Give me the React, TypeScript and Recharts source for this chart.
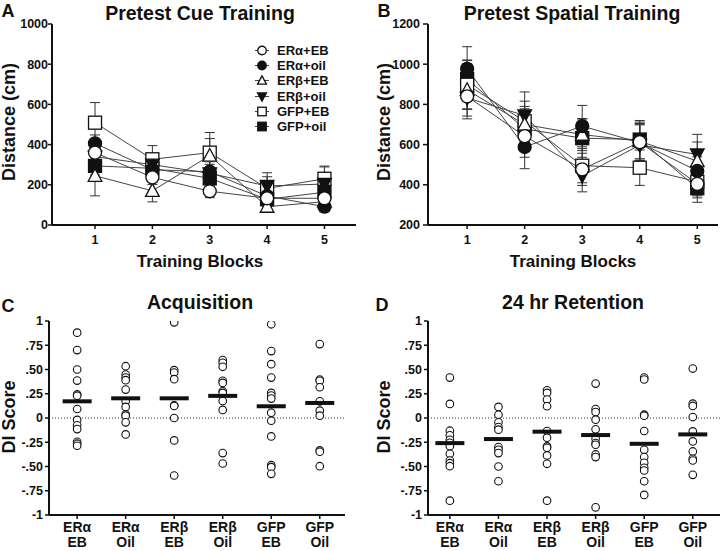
import React from "react";
import {
  LineChart,
  Line,
  ScatterChart,
  Scatter,
  XAxis,
  YAxis,
  ErrorBar,
  ReferenceLine,
  Legend,
} from "recharts";

const FONT = '"Liberation Sans", Arial, Helvetica, sans-serif';
const INK = "#111";

// ---- Panels A / B: training blocks ----
const blocks = [1, 2, 3, 4, 5];
const seriesKeys = ["eraEB", "eraOil", "erbEB", "erbOil", "gfpEB", "gfpOil"];
const seriesNames = ["ERα+EB", "ERα+oil", "ERβ+EB", "ERβ+oil", "GFP+EB", "GFP+oil"];
const seriesShapes = ["circle", "circle", "up", "down", "square", "square"];
const seriesFilled = [false, true, false, true, false, true];

// Pretest cue training, mean distance (cm)
const cueMeans = [
  [360, 237, 168, 133, 133],
  [406, 275, 265, 144, 91],
  [245, 170, 345, 91, 116],
  [340, 300, 257, 194, 204],
  [509, 327, 360, 182, 230],
  [294, 282, 232, 128, 163],
];
const cueSem = [
  [45, 35, 32, 30, 30],
  [42, 45, 50, 35, 25],
  [100, 55, 85, 20, 25],
  [50, 45, 45, 66, 85],
  [100, 68, 100, 58, 63],
  [45, 40, 40, 35, 40],
];

// Pretest spatial training, mean distance (cm)
const spatialMeans = [
  [840, 642, 477, 612, 405],
  [977, 588, 692, 610, 469],
  [872, 700, 650, 617, 518],
  [832, 745, 445, 598, 551],
  [898, 716, 495, 485, 415],
  [926, 678, 632, 625, 383],
];
const spatialSem = [
  [112, 105, 80, 90, 60],
  [110, 108, 103, 95, 70],
  [130, 90, 80, 95, 95],
  [57, 117, 80, 100, 100],
  [120, 100, 85, 88, 80],
  [95, 100, 95, 95, 70],
];

// ---- Panels C / D: DI scores per group ----
const groupLabels = [
  ["ERα", "EB"],
  ["ERα", "Oil"],
  ["ERβ", "EB"],
  ["ERβ", "Oil"],
  ["GFP", "EB"],
  ["GFP", "Oil"],
];
const diTicks = [-1, -0.75, -0.5, -0.25, 0, 0.25, 0.5, 0.75, 1];
const diTickLabels = ["-1", "-.75", "-.50", "-.25", "0", ".25", ".50", ".75", "1"];

const acquisition = [
  [0.88, 0.7, 0.5, 0.386, 0.245, 0.23, 0.093, -0.02, -0.076, -0.114, -0.245, -0.265, -0.286],
  [0.534, 0.448, 0.417, 0.39, 0.293, 0.172, 0.114, 0.038, 0.024, -0.045, -0.169],
  [0.986, 0.493, 0.469, 0.4, 0.131, 0.124, 0, -0.231, -0.593],
  [0.597, 0.569, 0.528, 0.383, 0.362, 0.276, 0.259, 0.176, 0.083, -0.362, -0.469],
  [0.966, 0.69, 0.555, 0.417, 0.259, 0.231, 0.2, 0.055, -0.028, -0.19, -0.486, -0.507, -0.576],
  [0.762, 0.397, 0.383, 0.317, 0.172, 0.076, 0.024, -0.334, -0.348, -0.497],
];
const acquisitionMeans = [0.172, 0.203, 0.203, 0.228, 0.121, 0.155];

const retention = [
  [0.417, 0.145, -0.131, -0.179, -0.224, -0.255, -0.29, -0.369, -0.438, -0.466, -0.497, -0.852],
  [0.114, 0.034, -0.045, -0.093, -0.12, -0.3, -0.328, -0.362, -0.5, -0.652],
  [0.286, 0.259, 0.19, 0.121, -0.134, -0.203, -0.293, -0.307, -0.386, -0.472, -0.852],
  [0.355, 0.093, 0.062, -0.017, -0.117, -0.214, -0.259, -0.276, -0.376, -0.403, -0.921],
  [0.417, 0.397, 0.034, 0.024, -0.134, -0.328, -0.403, -0.462, -0.514, -0.541, -0.652, -0.793],
  [0.51, 0.148, 0.124, 0.01, -0.138, -0.241, -0.345, -0.421, -0.438, -0.586],
];
const retentionMeans = [-0.259, -0.217, -0.141, -0.176, -0.266, -0.169];

function buildRows(means: number[][], sems: number[][]) {
  return blocks.map((b, i) => {
    const row: any = { block: b };
    seriesKeys.forEach((k, s) => {
      row[k] = means[s][i];
      row[k + "Err"] = sems[s][i];
    });
    return row;
  });
}

function buildPoints(groups: number[][]) {
  const pts: { x: number; y: number }[] = [];
  groups.forEach((vals, g) => vals.forEach((v) => pts.push({ x: g, y: v })));
  return pts;
}

function Marker({ cx, cy, shape, filled, size }: any) {
  const fill = filled ? INK : "#fff";
  const h = size / 2;
  const sw = 1.3;
  if (shape === "circle") return <circle cx={cx} cy={cy} r={h} fill={fill} stroke={INK} strokeWidth={sw} />;
  if (shape === "square")
    return <rect x={cx - h} y={cy - h} width={size} height={size} fill={fill} stroke={INK} strokeWidth={sw} />;
  if (shape === "up")
    return (
      <polygon
        points={`${cx},${cy - h * 1.1} ${cx - h * 1.05},${cy + h * 0.85} ${cx + h * 1.05},${cy + h * 0.85}`}
        fill={fill}
        stroke={INK}
        strokeWidth={sw}
      />
    );
  return (
    <polygon
      points={`${cx},${cy + h * 1.1} ${cx - h * 1.05},${cy - h * 0.85} ${cx + h * 1.05},${cy - h * 0.85}`}
      fill={fill}
      stroke={INK}
      strokeWidth={sw}
    />
  );
}

function SeriesLegend() {
  return (
    <div style={{ fontFamily: FONT, fontWeight: 700, fontSize: 13, color: INK }}>
      {seriesNames.map((n, i) => (
        <div key={n} style={{ display: "flex", alignItems: "center", height: 15.2 }}>
          <svg width={22} height={15} style={{ display: "block" }}>
            <line x1={3} x2={17} y1={7.5} y2={7.5} stroke="#444" strokeWidth={1} />
            <Marker cx={10} cy={7.5} shape={seriesShapes[i]} filled={seriesFilled[i]} size={8.5} />
          </svg>
          <span style={{ marginLeft: 3, lineHeight: "15px" }}>{n}</span>
        </div>
      ))}
    </div>
  );
}

const tickStyle = { fill: INK, fontSize: 12.5, fontWeight: 700, fontFamily: FONT };
const axisLine = { stroke: INK, strokeWidth: 2 };
const tickLine = { stroke: INK, strokeWidth: 1.5 };

function TrainingChart({ rows, yDomain, yTicks, xDomain, yWidth, right, ySize, yMargin, legend }: any) {
  const order = [5, 4, 3, 2, 1, 0];
  return (
    <LineChart width={360} height={280} data={rows} margin={{ top: 24, right, left: 0, bottom: 0 }}>
      <XAxis
        type="number"
        dataKey="block"
        domain={xDomain}
        ticks={blocks}
        allowDataOverflow
        height={55}
        axisLine={axisLine}
        tickLine={tickLine}
        tickSize={4}
        tickMargin={6}
        tick={tickStyle}
      />
      <YAxis
        type="number"
        domain={yDomain}
        ticks={yTicks}
        allowDataOverflow
        width={yWidth}
        axisLine={axisLine}
        tickLine={tickLine}
        tickSize={ySize}
        tickMargin={yMargin}
        tick={tickStyle}
        interval={0}
      />
      {legend && (
        <Legend
          layout="vertical"
          align="center"
          verticalAlign="middle"
          wrapperStyle={{ left: 252, top: 43, width: 110, height: 95 }}
          content={() => <SeriesLegend />}
        />
      )}
      {order.map((s) => (
        <Line
          key={seriesKeys[s]}
          dataKey={seriesKeys[s]}
          name={seriesNames[s]}
          stroke="#444"
          strokeWidth={1}
          isAnimationActive={false}
          activeDot={false}
          dot={(p: any) => (
            <Marker
              key={`${seriesKeys[s]}-${p.index}`}
              cx={p.cx}
              cy={p.cy}
              shape={seriesShapes[s]}
              filled={seriesFilled[s]}
              size={13}
            />
          )}
        >
          <ErrorBar dataKey={seriesKeys[s] + "Err"} width={5} stroke="#333" strokeWidth={1} direction="y" />
        </Line>
      ))}
    </LineChart>
  );
}

function GroupTick({ x, y, payload }: any) {
  const lab = groupLabels[payload.value];
  if (!lab) return null;
  return (
    <text x={x} y={y} textAnchor="middle" fill={INK} fontSize={14} fontWeight={700} fontFamily={FONT}>
      <tspan x={x} dy={11}>{lab[0]}</tspan>
      <tspan x={x} dy={15}>{lab[1]}</tspan>
    </text>
  );
}

function DiChart({ points, means, xDomain, yWidth, right }: any) {
  const meanPts = means.map((m: number, g: number) => ({ x: g, y: m }));
  return (
    <ScatterChart width={360} height={271} margin={{ top: 41, right, left: 0, bottom: 0 }}>
      <XAxis
        type="number"
        dataKey="x"
        domain={xDomain}
        ticks={[0, 1, 2, 3, 4, 5]}
        allowDataOverflow
        height={36}
        axisLine={axisLine}
        tickLine={tickLine}
        tickSize={4}
        tickMargin={2}
        tick={<GroupTick />}
        interval={0}
      />
      <YAxis
        type="number"
        dataKey="y"
        domain={[-1, 1]}
        ticks={diTicks}
        allowDataOverflow
        width={yWidth}
        axisLine={axisLine}
        tickLine={tickLine}
        tickSize={4}
        tickMargin={2}
        tick={tickStyle}
        interval={0}
        tickFormatter={(v: number) => diTickLabels[diTicks.indexOf(v)] ?? String(v)}
      />
      <ReferenceLine y={0} stroke="#333" strokeWidth={1} strokeDasharray="1 2" />
      <Scatter
        data={points}
        isAnimationActive={false}
        shape={(p: any) => <circle cx={p.cx} cy={p.cy} r={3.8} fill="#fff" stroke={INK} strokeWidth={1.1} />}
      />
      <Scatter
        data={meanPts}
        isAnimationActive={false}
        shape={(p: any) => <rect x={p.cx - 14.5} y={p.cy - 2} width={29} height={4} fill={INK} />}
      />
    </ScatterChart>
  );
}

function Txt({ x, y, size, children, rotate }: any) {
  return (
    <div
      style={{
        position: "absolute",
        left: x,
        top: y,
        transform: `translate(-50%, -50%)${rotate ? " rotate(-90deg)" : ""}`,
        whiteSpace: "nowrap",
        fontFamily: FONT,
        fontWeight: 700,
        fontSize: size,
        color: INK,
        lineHeight: 1.15,
      }}
    >
      {children}
    </div>
  );
}

export default function App() {
  const cueRows = buildRows(cueMeans, cueSem);
  const spatialRows = buildRows(spatialMeans, spatialSem);
  return (
    <div style={{ position: "absolute", left: 0, top: 0, width: 720, height: 551, background: "#fff", overflow: "hidden" }}>
      <div style={{ position: "absolute", left: 0, top: 0 }}>
        <TrainingChart
          rows={cueRows}
          yDomain={[0, 1000]}
          yTicks={[0, 200, 400, 600, 800, 1000]}
          xDomain={[0.25, 5.55]}
          yWidth={52}
          right={4}
          ySize={4}
          yMargin={0}
          legend
        />
      </div>
      <div style={{ position: "absolute", left: 360, top: 0 }}>
        <TrainingChart
          rows={spatialRows}
          yDomain={[200, 1200]}
          yTicks={[200, 400, 600, 800, 1000, 1200]}
          xDomain={[0.32, 5.36]}
          yWidth={68}
          right={2}
          ySize={5}
          yMargin={3}
        />
      </div>
      <div style={{ position: "absolute", left: 0, top: 280 }}>
        <DiChart points={buildPoints(acquisition)} means={acquisitionMeans} xDomain={[-0.58, 5.52]} yWidth={49} right={15} />
      </div>
      <div style={{ position: "absolute", left: 360, top: 280 }}>
        <DiChart points={buildPoints(retention)} means={retentionMeans} xDomain={[-0.45, 5.56]} yWidth={68} right={0} />
      </div>

      <Txt x={8} y={11} size={18}>A</Txt>
      <Txt x={384} y={11} size={18}>B</Txt>
      <Txt x={8} y={306} size={18}>C</Txt>
      <Txt x={382} y={305} size={18}>D</Txt>

      <Txt x={200} y={13} size={19.5}>Pretest Cue Training</Txt>
      <Txt x={572} y={13} size={19.5}>Pretest Spatial Training</Txt>
      <Txt x={200} y={302} size={19.5}>Acquisition</Txt>
      <Txt x={573} y={302} size={19.5}>24 hr Retention</Txt>

      <Txt x={9} y={122} size={18} rotate>Distance (cm)</Txt>
      <Txt x={384} y={122} size={18} rotate>Distance (cm)</Txt>
      <Txt x={9} y={417} size={18} rotate>DI Score</Txt>
      <Txt x={384} y={417} size={18} rotate>DI Score</Txt>

      <Txt x={200} y={262} size={17}>Training Blocks</Txt>
      <Txt x={573} y={262} size={17}>Training Blocks</Txt>
    </div>
  );
}
